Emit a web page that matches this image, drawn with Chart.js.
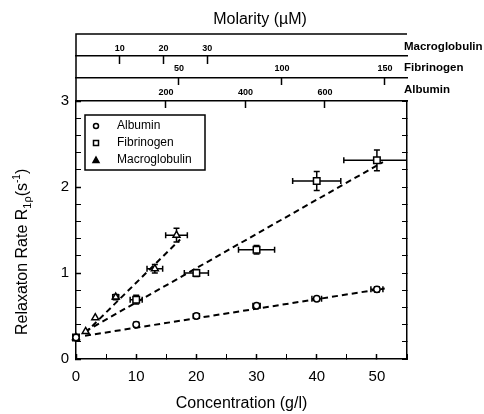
<!DOCTYPE html>
<html>
<head>
<meta charset="utf-8">
<script src="https://cdn.jsdelivr.net/npm/chart.js@4.4.0/dist/chart.umd.min.js"></script>
<style>
  html, body { margin: 0; padding: 0; background: #fff; }
</style>
</head>
<body>
<canvas id="chart" width="484" height="414"></canvas>
<script>
// Data: relaxation rate vs protein concentration
const seriesNames = ['Albumin', 'Fibrinogen', 'Macroglobulin'];

const albuminConc = [0, 10, 20, 30, 40, 50];
const albuminRate = [0.25, 0.40, 0.50, 0.62, 0.70, 0.81];
const albuminConcErr = [0, 0.4, 0.5, 0.6, 0.8, 1.0];
const albuminRateErr = [0, 0.02, 0.02, 0.02, 0.02, 0.03];

const fibrinogenConc = [0, 10, 20, 30, 40, 50];
const fibrinogenRate = [0.25, 0.69, 1.00, 1.27, 2.07, 2.31];
const fibrinogenConcErr = [0, 1, 2, 3, 4, 5.5];
const fibrinogenRateErr = [0, 0.05, 0.04, 0.05, 0.11, 0.12];

const macroConc = [0, 1.6, 3.2, 6.6, 13.1, 16.7];
const macroRate = [0.25, 0.32, 0.48, 0.72, 1.05, 1.44];
const macroConcErr = [0, 0, 0, 0.5, 1.3, 1.8];
const macroRateErr = [0, 0, 0, 0.03, 0.05, 0.08];

// dashed fit lines (end points)
const albuminFitConc = [1.5, 51.3];
const albuminFitRate = [0.27, 0.82];
const fibrinogenFitConc = [1.5, 51];
const fibrinogenFitRate = [0.32, 2.29];
const macroFitConc = [1.5, 17.3];
const macroFitRate = [0.30, 1.39];

// axes
const concRange = [0, 55];
const rateRange = [0, 3];
const macroMolTicks = [10, 20, 30];
const macroMolRange = [0, 75.6];
const fibMolTicks = [50, 100, 150];
const fibMolRange = [0, 160.7];
const albMolTicks = [200, 400, 600];
const albMolRange = [-26.4, 806.3];

const FONT = "'Liberation Sans', Arial, Helvetica, sans-serif";

function toPoints(xs, ys) {
    return xs.map((x, i) => ({ x: x, y: ys[i] }));
}

const errorSets = [
    { conc: albuminConc, rate: albuminRate, cErr: albuminConcErr, rErr: albuminRateErr },
    { conc: fibrinogenConc, rate: fibrinogenRate, cErr: fibrinogenConcErr, rErr: fibrinogenRateErr },
    { conc: macroConc, rate: macroRate, cErr: macroConcErr, rErr: macroRateErr }
];

function topAxis(range, ticks, weight, height, tickLen, pad) {
    return {
        type: 'linear',
        position: 'top',
        weight: weight,
        min: range[0],
        max: range[1],
        afterBuildTicks: s => { s.ticks = ticks.map(v => ({ value: v })); },
        afterFit: s => { s.height = height; },
        ticks: { autoSkip: false, maxRotation: 0, padding: pad, color: '#000',
                 font: { family: FONT, size: 9, weight: 'bold' } },
        grid: { drawOnChartArea: false, tickLength: tickLen, tickColor: '#000', tickWidth: 1.5 },
        border: { display: true, color: '#000', width: 1.5 }
    };
}

const decor = {
    id: 'decor',
    beforeDatasetsDraw(chart) {
        const { ctx, chartArea: a, scales: { x, y } } = chart;
        ctx.save();
        ctx.beginPath();
        ctx.rect(a.left - 10, a.top - 10, a.right - a.left + 10, a.bottom - a.top + 20);
        ctx.clip();
        ctx.strokeStyle = '#000';
        ctx.lineWidth = 1.5;
        const cap = 3;
        errorSets.forEach(s => {
            s.conc.forEach((c, i) => {
                const px = x.getPixelForValue(c), py = y.getPixelForValue(s.rate[i]);
                if (s.cErr[i] > 0) {
                    const x0 = x.getPixelForValue(c - s.cErr[i]), x1 = x.getPixelForValue(c + s.cErr[i]);
                    ctx.beginPath();
                    ctx.moveTo(x0, py); ctx.lineTo(x1, py);
                    ctx.moveTo(x0, py - cap); ctx.lineTo(x0, py + cap);
                    ctx.moveTo(x1, py - cap); ctx.lineTo(x1, py + cap);
                    ctx.stroke();
                }
                if (s.rErr[i] > 0) {
                    const y0 = y.getPixelForValue(s.rate[i] - s.rErr[i]), y1 = y.getPixelForValue(s.rate[i] + s.rErr[i]);
                    ctx.beginPath();
                    ctx.moveTo(px, y0); ctx.lineTo(px, y1);
                    ctx.moveTo(px - cap, y0); ctx.lineTo(px + cap, y0);
                    ctx.moveTo(px - cap, y1); ctx.lineTo(px + cap, y1);
                    ctx.stroke();
                }
            });
        });
        ctx.restore();
    },
    afterDraw(chart) {
        const { ctx, chartArea: a, scales } = chart;
        const topY = scales.xMacro.top;
        ctx.save();
        ctx.strokeStyle = '#000';
        ctx.fillStyle = '#000';
        ctx.lineWidth = 1.5;

        // frame around the molarity bands
        ctx.beginPath();
        ctx.moveTo(a.left, a.top);
        ctx.lineTo(a.left, topY);
        ctx.lineTo(a.right, topY);
        ctx.stroke();

        // top title
        ctx.font = '16px ' + FONT;
        ctx.textAlign = 'center';
        ctx.textBaseline = 'middle';
        ctx.fillText('Molarity (\u00b5M)', 260, 20);

        // band names
        ctx.font = 'bold 11.5px ' + FONT;
        ctx.textAlign = 'left';
        ctx.fillText('Macroglobulin', a.right - 3, 47);
        ctx.fillText('Fibrinogen', a.right - 3, 68);
        ctx.fillText('Albumin', a.right - 3, 90);

        // y title with sub/superscripts
        ctx.translate(23, 335);
        ctx.rotate(-Math.PI / 2);
        ctx.textAlign = 'left';
        ctx.textBaseline = 'middle';
        let cx = 0;
        const parts = [
            { t: 'Relaxaton Rate R', size: 16, dy: 0 },
            { t: '1\u03c1', size: 11, dy: 5 },
            { t: '(s', size: 16, dy: 0 },
            { t: '-1', size: 10, dy: -6 },
            { t: ')', size: 16, dy: 0 }
        ];
        parts.forEach(p => {
            ctx.font = p.size + 'px ' + FONT;
            ctx.fillText(p.t, cx, p.dy);
            cx += ctx.measureText(p.t).width;
        });
        ctx.setTransform(1, 0, 0, 1, 0, 0);

        // legend
        const lx = a.left + 9, ly = a.top + 14;
        ctx.lineWidth = 1.5;
        ctx.strokeRect(lx, ly, 120, 55);
        ctx.font = '12px ' + FONT;
        ctx.textBaseline = 'middle';
        const styles = ['circle', 'rect', 'triangle'];
        seriesNames.forEach((name, i) => {
            const sy = ly + 11 + i * 17;
            const sx = lx + 11;
            ctx.beginPath();
            if (styles[i] === 'circle') {
                ctx.arc(sx, sy, 2.5, 0, Math.PI * 2);
            } else if (styles[i] === 'rect') {
                ctx.rect(sx - 2.5, sy - 2.5, 5, 5);
            } else {
                ctx.moveTo(sx, sy - 3);
                ctx.lineTo(sx + 3, sy + 2.5);
                ctx.lineTo(sx - 3, sy + 2.5);
                ctx.closePath();
                ctx.fill();
            }
            ctx.stroke();
            ctx.fillText(name, lx + 32, sy);
        });
        ctx.restore();
    }
};

const pointBase = {
    type: 'scatter',
    showLine: false,
    clip: false,
    order: 1,
    pointBackgroundColor: '#fff',
    pointBorderColor: '#000',
    pointBorderWidth: 1.5
};
const lineBase = {
    type: 'line',
    showLine: true,
    order: 2,
    borderColor: '#000',
    borderWidth: 2,
    borderDash: [6, 4],
    pointRadius: 0,
    fill: false
};

const chart = new Chart(document.getElementById('chart').getContext('2d'), {
    data: {
        datasets: [
            Object.assign({}, lineBase, { label: 'fitA', data: toPoints(albuminFitConc, albuminFitRate) }),
            Object.assign({}, lineBase, { label: 'fitF', data: toPoints(fibrinogenFitConc, fibrinogenFitRate) }),
            Object.assign({}, lineBase, { label: 'fitM', data: toPoints(macroFitConc, macroFitRate) }),
            Object.assign({}, pointBase, { label: seriesNames[0], data: toPoints(albuminConc, albuminRate),
                pointStyle: 'circle', pointRadius: 3.2 }),
            Object.assign({}, pointBase, { label: seriesNames[1], data: toPoints(fibrinogenConc, fibrinogenRate),
                pointStyle: 'rect', pointRadius: 4.6 }),
            Object.assign({}, pointBase, { label: seriesNames[2], data: toPoints(macroConc, macroRate),
                pointStyle: 'triangle', pointRadius: 4 })
        ]
    },
    options: {
        responsive: false,
        animation: false,
        devicePixelRatio: 1,
        layout: { padding: { top: 34, right: 77, left: 0, bottom: 0 } },
        plugins: { legend: { display: false }, tooltip: { enabled: false } },
        scales: {
            x: {
                type: 'linear',
                position: 'bottom',
                min: concRange[0],
                max: concRange[1],
                afterFit: s => { s.height = 55; },
                ticks: {
                    stepSize: 5, autoSkip: false, maxRotation: 0, padding: 14, color: '#000',
                    font: { family: FONT, size: 15 },
                    callback: v => (Math.abs(v % 10) < 1e-6 ? String(v) : '')
                },
                grid: {
                    drawOnChartArea: false, tickLength: -5, tickColor: '#000',
                    tickWidth: c => (c.tick && Math.abs(c.tick.value % 10) < 1e-6 ? 1.5 : 1)
                },
                border: { display: true, color: '#000', width: 1.5 },
                title: { display: true, text: 'Concentration (g/l)', color: '#000',
                         font: { family: FONT, size: 16 }, padding: { top: 0, bottom: 1 } }
            },
            y: {
                type: 'linear',
                position: 'left',
                min: rateRange[0],
                max: rateRange[1],
                afterFit: s => { s.width = 76; },
                ticks: {
                    stepSize: 0.2, autoSkip: false, padding: 12, color: '#000',
                    font: { family: FONT, size: 15 },
                    callback: v => (Math.abs(v - Math.round(v)) < 1e-6 ? String(Math.round(v)) : '')
                },
                grid: {
                    drawOnChartArea: false, tickLength: -5, tickColor: '#000',
                    tickWidth: c => (c.tick && Math.abs(c.tick.value - Math.round(c.tick.value)) < 1e-6 ? 1.5 : 1)
                },
                border: { display: true, color: '#000', width: 1.5 }
            },
            y2: {
                type: 'linear',
                position: 'right',
                min: rateRange[0],
                max: rateRange[1],
                afterFit: s => { s.width = 0; },
                ticks: { stepSize: 0.2, display: false },
                grid: { drawOnChartArea: false, tickLength: -5, tickColor: '#000', tickWidth: 1 },
                border: { display: true, color: '#000', width: 1.5 }
            },
            xMacro: topAxis(macroMolRange, macroMolTicks, 3, 22, -8, 10.5),
            xFib: topAxis(fibMolRange, fibMolTicks, 2, 22, -7, 11),
            xAlb: topAxis(albMolRange, albMolTicks, 1, 23, -7, 10)
        }
    },
    plugins: [decor]
});
</script>
</body>
</html>
